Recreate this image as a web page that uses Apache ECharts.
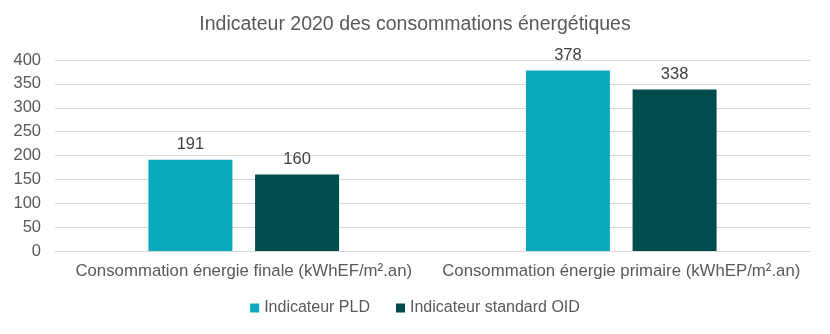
<!DOCTYPE html>
<html><head><meta charset="utf-8">
<script src="https://cdn.jsdelivr.net/npm/echarts@6/dist/echarts.min.js"></script>
<style>html,body{margin:0;padding:0;background:#fff}#c{width:830px;height:334px}</style>
</head><body><div id="c"></div>
<script>
const categories = ["Consommation énergie finale (kWhEF/m².an)", "Consommation énergie primaire (kWhEP/m².an)"];
const seriesNames = ["Indicateur PLD", "Indicateur standard OID"];
const pldValues = [191, 378];
const oidValues = [160, 338];
const yTicks = [0, 50, 100, 150, 200, 250, 300, 350, 400];

const font = "'Liberation Sans', Arial, sans-serif";
const chart = echarts.init(document.getElementById('c'), null, {renderer: 'canvas'});
chart.setOption({
  animation: false,
  textStyle: {fontFamily: font},
  title: {
    text: "Indicateur 2020 des consommations énergétiques",
    left: 'center', top: 10,
    textStyle: {fontFamily: font, fontSize: 19.5, fontWeight: 'normal', color: '#595959'}
  },
  legend: {
    bottom: 13, left: 'center', itemWidth: 9, itemHeight: 9, itemGap: 26,
    icon: 'rect',
    textStyle: {fontFamily: font, fontSize: 16, color: '#595959'},
    data: seriesNames
  },
  grid: {left: 55, right: 20, top: 60, bottom: 83},
  xAxis: {
    type: 'category', data: categories,
    axisLine: {lineStyle: {color: '#d9d9d9'}},
    axisTick: {show: false},
    axisLabel: {fontFamily: font, fontSize: 16.8, color: '#595959', margin: 12, interval: 0}
  },
  yAxis: {
    type: 'value', min: yTicks[0], max: yTicks[yTicks.length-1], interval: 50,
    axisLine: {show: false}, axisTick: {show: false},
    axisLabel: {fontFamily: font, fontSize: 16.5, color: '#595959', margin: 14},
    splitLine: {lineStyle: {color: '#d9d9d9'}}
  },
  series: [
    {name: seriesNames[0], type: 'bar', data: pldValues, barWidth: 84, barGap: '27%',
     itemStyle: {color: '#0BA9BE'},
     label: {show: true, position: 'top', distance: 7, fontFamily: font, fontSize: 16.5, color: '#404040'}},
    {name: seriesNames[1], type: 'bar', data: oidValues, barWidth: 84,
     itemStyle: {color: '#004B4E'},
     label: {show: true, position: 'top', distance: 7, fontFamily: font, fontSize: 16.5, color: '#404040'}}
  ]
});
</script></body></html>
